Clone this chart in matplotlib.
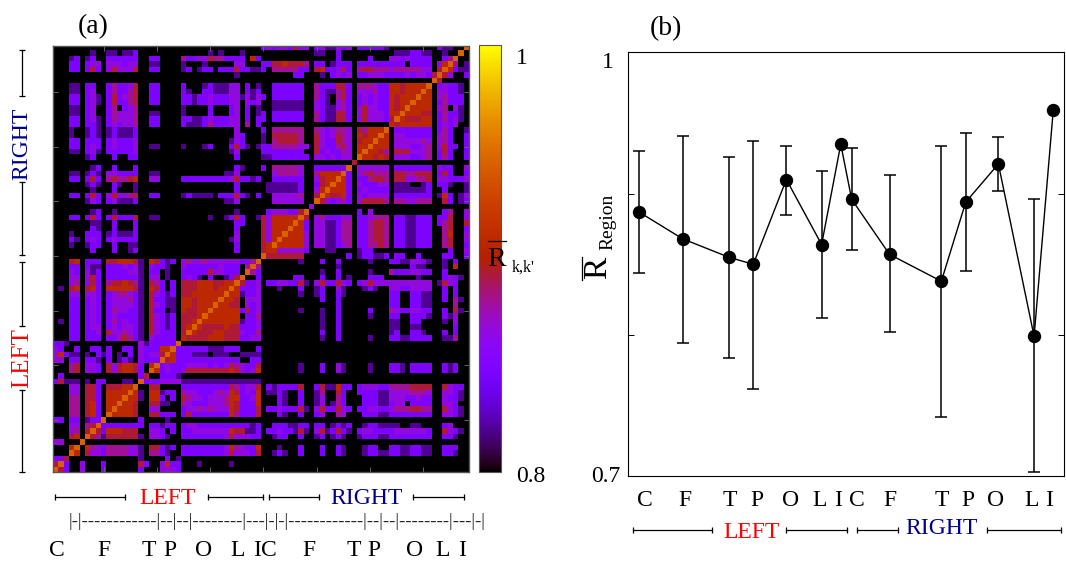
import numpy as np
import matplotlib
matplotlib.use('Agg')
import matplotlib.pyplot as plt

plt.rcParams['font.family'] = ['Liberation Serif', 'DejaVu Serif']

W, H = 1066, 562

# value of each colour level used in the rows below
level_values = [0.80, 0.82, 0.85, 0.866, 0.88, 0.893, 0.909, 0.945, 0.948]

# lower triangle of the matrix, node 1 first, one digit per cell (level index)
rows_left = [
    "7",
    "57",
    "225",
    "0007",
    "00067",
    "330007",
    "0005607",
    "00034057",
    "000330457",
    "2202201227",
    "00044056207",
    "000440562067",
    "0004405620667",
    "00044055206667",
    "000330552066667",
    "0003305520555667",
    "2511101022 000110 7",
    "0200000000 000000 2 5",
    "0004503320 535665 2 0 7",
    "0004503320 535665 2 0 67",
    "3302202210 201210 3 2 22 7",
    "3621101021 201020 3 2 33 57",
    "3200200220 200220 3 2 22 667",
    "2210000000 000000 3 1 22 222 7",
    "0002202220 224542 1032 2220 6",
    "0002202230 533432 1053 2220 57",
    "0002202330 232332 1053 2120 567",
    "0102202320 242322 1053 2120 5567",
    "0002202320 232222 1053 2120 55567",
    "0002202320 243322 1052 2010 655667",
    "0002202320 233332 1053 2110 6656667",
    "0002202320 233342 1052 2110 66566667",
    "0003303320 234432 1053 2120 556666667",
    "0105605620 666665 1065 2020 5556665667",
    "0003403520 455654 1054 2020 55566655667",
    "0003303520 222222 1033 0100 232102001257",
    "0003203120 222233 1022 0100 2222253322207",
    "0002202110 222323 1032 2100 32222223222047",
    "0005602220 556665 1065 2120 343343333332247",
]

# rows 40 to 78: cells against the left half, then the right half triangle
rows_right = [
    "0000000000 000000 0000 0000 000000000000000" " 7",
    "0000000200 020012 0000 0000 000000000020000" " 56",
    "0001001220 020011 0000 0000 000000000020000" " 567",
    "0002102320 232222 0000 0000 000000000130000" " 5367",
    "0001002220 121112 0000 0000 000000000030000" " 53667",
    "0000000210 020002 0000 0000 000000000020000" " 536667",
    "0000000110 020002 0000 0000 000000000022000" " 5366667",
    "0002202520 252225 0011 0000 000001001252001" " 53666667",
    "0000000120 010000 0000 0000 000000000010000" " 023332257",
    "0000000000 000000 0000 0000 000000000000000" " 0000000003",
    "0000001320 231112 0000 0000 000000001130000" " 00333333007",
    "0002202520 353345 0022 0000 121111022252102" " 003333340057",
    "0000000100 020001 0000 0000 000000000020000" " 0111111200 367",
    "0000001210 021001 0000 0000 000000000020000" " 0111111200 2567",
    "0002202520 454456 0033 0000 222222222352212" " 0022222200 35667",
    "0001101210 332222 0011 0000 000000001130000" " 0034444300 466667",
    "0000000120 020002 0000 0000 000000000021000" " 2044444300 2222227",
    "0000000000 000000 0000 0000 000000000000000" " 00000000000000000 5",
    "0000001200 020022 0000 0000 000000000020000" " 1122222220 3323233 0 7",
    "0001102310 222223 0000 0000 000000000130000" " 2222222200 5232243 0 67",
    "0002202320 232223 0011 0000 100012000252101" " 2244444330 5322453 0 667",
    "0002202220 232223 0000 0000 000000000132000" " 1045555400 5322543 0 5667",
    "0001001210 121112 0000 0000 000000000032000" " 1055555400 5323543 0 65667",
    "0001001210 121112 0000 0000 000000000030000" " 2044444400 4323443 0 546667",
    "0002202210 232334 0022 0000 211124222330402" " 0000000000 0000000 0 000000 6",
    "0002202310 243334 0022 0000 221123222330202" " 2022222200 4211552 0 353332 57",
    "0001102300 243334 0011 0000 100002000230201" " 2022222200 4211552 0 353332 667",
    "0001102300 240234 0000 0000 100002000230201" " 0011111100 3211342 0 353322 6567",
    "0002202310 252245 0022 0000 221223222330323" " 0011111100 3210342 0 232322 65667",
    "0002202310 252345 0022 0000 221223222331313" " 2022222200 4210452 0 232322 656667",
    "0001102300 242245 0022 0000 210022111330212" " 0022222200 4211452 0 333422 6656667",
    "0001102200 242235 0022 0000 200012111330201" " 0022222200 4222552 0 444322 66566667",
    "0000000000 000000 0000 0000 000000000000000" " 0000000000 0000000 0 000000 00000000 7",
    "0000000000 000000 0000 0000 000000000010000" " 0000002200 0102323 0 223332 22232332 57",
    "0002202520 353335 0022 0000 120122022252211" " 2044444220 5622352 0 455444 34444433 057",
    "0002202330 333233 0011 0000 100010000033000" " 2255655540 2201222 0 222222 22202222 0367",
    "0001201200 222222 0022 0000 422335442222062" " 0000000000 0000200 0 002000 33232222 00247",
    "0000000100 110112 0000 0000 000001010001000" " 0000000000 1100200 0 000000 01112211 001007",
    "0000000000 000000 0000 0000 000000000000000" " 2323325330 2311323 0 222221 00000000 0211007",
]

# panel (b): region positions, mean and the two ends of each error bar
region_pos = [2.45, 12.5, 23.1, 28.7, 36.3, 44.4, 48.8, 51.3, 60.0, 71.9, 77.5, 85.0, 93.2, 97.6]
region_mean = [0.887, 0.868, 0.855, 0.850, 0.910, 0.864, 0.935, 0.896, 0.857, 0.838, 0.894, 0.921, 0.799, 0.959]
region_low = [0.844, 0.794, 0.784, 0.762, 0.885, 0.812, 0.935, 0.860, 0.802, 0.742, 0.845, 0.902, 0.703, 0.959]
region_high = [0.930, 0.941, 0.926, 0.937, 0.934, 0.916, 0.935, 0.932, 0.913, 0.934, 0.943, 0.940, 0.896, 0.959]

letters_a = ['C', 'F', 'T', 'P', 'O', 'L', 'I', 'C', 'F', 'T', 'P', 'O', 'L', 'I']
letters_a_x = [57, 104, 149, 170, 204, 238, 257, 269, 309, 354, 374, 415, 443, 462]
letters_b_x = [645, 685, 730, 757, 791, 820, 838, 857, 890, 942, 968, 996, 1032, 1049]
dash_line = "|-|------------|--|--|--------|---|-|-|------------|--|--|--------|---|-|"


def px_axes(fig, left, top, right, bottom):
    return fig.add_axes([left / W, 1 - bottom / H, (right - left) / W, (bottom - top) / H])


def bracket(ax, xs, ys, marker):
    ax.plot(xs, ys, color='k', lw=0.9, marker=marker, ms=4.5, mew=0.9)


n = len(rows_left) + len(rows_right)
matrix = np.zeros((n, n))
for k, row in enumerate(rows_left + rows_right):
    digits = row.replace(' ', '').ljust(k + 1, '0')[:k + 1]
    for j, d in enumerate(digits):
        matrix[k, j] = matrix[j, k] = level_values[int(d)]

fig = plt.figure(figsize=(W / 100, H / 100), dpi=100)

# panel (a)
ax = px_axes(fig, 53, 45.7, 468.5, 472)
im = ax.imshow(matrix, origin='lower', cmap='gnuplot', vmin=0.8, vmax=1.0, aspect='auto',
               interpolation='nearest', extent=(0.5, n + 0.5, 0.5, n + 0.5))
ax.set_xticks(range(10, 71, 10))
ax.set_yticks(range(10, 71, 10))
ax.tick_params(direction='in', length=3.5, width=0.7, color='#666666', top=True, right=True,
               labelbottom=False, labelleft=False)
for s in ax.spines.values():
    s.set_color('#555555')
    s.set_linewidth(1.0)

cax = px_axes(fig, 479, 45, 501, 472)
cb = fig.colorbar(im, cax=cax)
cb.set_ticks([])
cb.outline.set_edgecolor('#555555')

# panel (b)
bx = px_axes(fig, 628.3, 52.3, 1063.7, 476.3)
mean = np.array(region_mean)
bx.errorbar(region_pos, mean, yerr=[mean - np.array(region_low), np.array(region_high) - mean],
            fmt='o-', color='k', ms=8.6, lw=1.0, elinewidth=1.1, capsize=4, capthick=1.1)
bx.set_xlim(0, 100)
bx.set_ylim(0.7, 1.0)
bx.set_xticks([])
bx.set_yticks([0.7, 0.8, 0.9, 1.0])
bx.tick_params(direction='in', length=4, width=0.7, right=True, labelleft=False)

# everything around the panels, in picture pixels
over = fig.add_axes([0, 0, 1, 1], zorder=5)
over.set_xlim(0, W)
over.set_ylim(H, 0)
over.axis('off')
serif = dict(ha='center', va='center')
blue = '#00008b'

over.text(93, 27, '(a)', fontsize=20, **serif)
over.text(666, 29, '(b)', fontsize=20, **serif)
over.text(522, 58, '1', fontsize=17, **serif)
over.text(531, 477, '0.8', fontsize=17, **serif)
over.text(497, 259, 'R', fontsize=20, **serif)
over.plot([488, 506], [241, 241], color='k', lw=0.9)
over.text(523, 268, "k,k'", fontsize=11.5, **serif)

over.text(22, 144, 'RIGHT', color=blue, fontsize=17, rotation=90, **serif)
over.text(22, 358, 'LEFT', color='red', fontsize=18, rotation=90, **serif)
bracket(over, [22, 22], [50, 96], '_')
bracket(over, [22, 22], [182, 255], '_')
bracket(over, [22, 22], [262, 326], '_')
bracket(over, [22, 22], [390, 472], '_')

over.text(167.5, 499, 'LEFT', color='red', fontsize=17, **serif)
over.text(367, 499, 'RIGHT', color=blue, fontsize=17, **serif)
bracket(over, [55, 125], [497, 497], '|')
bracket(over, [208, 263], [497, 497], '|')
bracket(over, [269, 319], [497, 497], '|')
bracket(over, [413, 464], [497, 497], '|')
over.text(277.5, 522, dash_line, fontsize=13.4, color='#222222', **serif)
for x, t in zip(letters_a_x, letters_a):
    over.text(x, 551, t, fontsize=17, **serif)

over.text(614, 62, '1', fontsize=17, ha='right', va='center')
over.text(620, 477, '0.7', fontsize=17, ha='right', va='center')
for x, t in zip(letters_b_x, letters_a):
    over.text(x, 500, t, fontsize=17, **serif)
over.text(598, 268, 'R', fontsize=24, rotation=90, **serif)
over.plot([582, 582], [257, 280], color='k', lw=0.9)
over.text(608, 222, 'Region', fontsize=14, rotation=90, **serif)

over.text(752, 533, 'LEFT', color='red', fontsize=17, **serif)
over.text(942, 528, 'RIGHT', color=blue, fontsize=17, **serif)
bracket(over, [633, 712], [530, 530], '|')
bracket(over, [786, 847], [530, 530], '|')
bracket(over, [857, 898], [530, 530], '|')
bracket(over, [987, 1061], [530, 530], '|')

fig.savefig('out.png', dpi=100)
